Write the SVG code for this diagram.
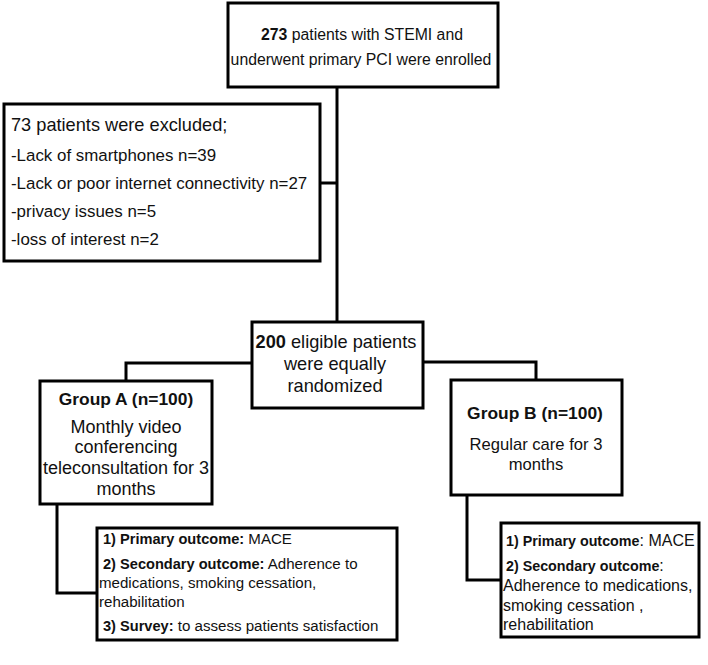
<svg xmlns="http://www.w3.org/2000/svg" width="708" height="665" viewBox="0 0 708 665">
<style>
.box{fill:#fff;stroke:#000;stroke-width:3}
.ln{fill:none;stroke:#000;stroke-width:3}
text{font-family:"Liberation Sans",Arial,sans-serif;fill:#111}
.top{font-size:15.8px}
.ex1{font-size:18.2px}
.ex{font-size:16.9px}
.mid{font-size:18.2px}
.ga{font-size:18px}
.gt{font-size:17.4px;font-weight:bold}
.gb{font-size:16.6px}
.oa{font-size:15.1px}
.ob{font-size:16px}
.b{font-weight:bold}
.bs{font-weight:bold;font-size:14.6px}
.bsb{font-weight:bold;font-size:14.3px}
.c{text-anchor:middle}
</style>
<rect width="708" height="665" fill="#fff"/>
<g id="connectors">
<path class="ln" d="M337,88 V322"/>
<path class="ln" d="M320,183 H337"/>
<path class="ln" d="M252,363 H126 V381"/>
<path class="ln" d="M423,362 H536 V380"/>
<path class="ln" d="M57,504 V593 H97"/>
<path class="ln" d="M467,495 V580 H501"/>
</g>
<g id="enrolled">
<rect class="box" x="228" y="3" width="270" height="84"/>
<text class="top c" x="362" y="40"><tspan class="b">273</tspan> patients with STEMI and</text>
<text class="top c" x="361" y="65">underwent primary PCI were enrolled</text>
</g>
<g id="excluded">
<rect class="box" x="4" y="104" width="316" height="157"/>
<text class="ex1" x="11" y="131">73 patients were excluded;</text>
<text class="ex" x="11" y="161">-Lack of smartphones n=39</text>
<text class="ex" x="11" y="189">-Lack or poor internet connectivity n=27</text>
<text class="ex" x="11" y="217">-privacy issues n=5</text>
<text class="ex" x="11" y="245">-loss of interest n=2</text>
</g>
<g id="randomized">
<rect class="box" x="252" y="322" width="171" height="86"/>
<text class="mid c" x="336" y="348"><tspan class="b">200</tspan> eligible patients</text>
<text class="mid c" x="335" y="370">were equally</text>
<text class="mid c" x="335" y="392">randomized</text>
</g>
<g id="groupA">
<rect class="box" x="40" y="381" width="172" height="123"/>
<text class="gt c" x="126" y="405">Group A (n=100)</text>
<text class="ga c" x="126" y="433">Monthly video</text>
<text class="ga c" x="126" y="453">conferencing</text>
<text class="ga c" x="126" y="474">teleconsultation for 3</text>
<text class="ga c" x="126" y="495">months</text>
</g>
<g id="groupB">
<rect class="box" x="451" y="380" width="171" height="115"/>
<text class="gt c" x="535" y="419">Group B (n=100)</text>
<text class="gb c" x="536" y="450">Regular care for 3</text>
<text class="gb c" x="536" y="470">months</text>
</g>
<g id="outcomesA">
<rect class="box" x="97" y="528" width="300" height="112"/>
<text class="oa" x="103" y="544"><tspan class="bs">1) Primary outcome:</tspan> MACE</text>
<text class="oa" x="103" y="569"><tspan class="bs">2) Secondary outcome:</tspan> Adherence to</text>
<text class="oa" x="99" y="588">medications, smoking cessation,</text>
<text class="oa" x="99" y="607">rehabilitation</text>
<text class="oa" x="103" y="631"><tspan class="bs">3) Survey:</tspan> to assess patients satisfaction</text>
</g>
<g id="outcomesB">
<rect class="box" x="501" y="523" width="198" height="114"/>
<text class="ob" x="506" y="546"><tspan class="bsb">1) Primary outcome</tspan>: MACE</text>
<text class="ob" x="506" y="571"><tspan class="bsb">2) Secondary outcome</tspan>:</text>
<text class="ob" x="503" y="591">Adherence to medications,</text>
<text class="ob" x="503" y="611">smoking cessation ,</text>
<text class="ob" x="503" y="630">rehabilitation</text>
</g>
</svg>
